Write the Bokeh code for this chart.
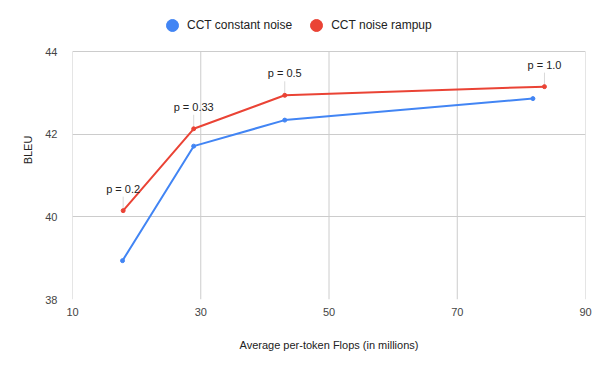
import math
from bokeh.plotting import figure
from bokeh.models import Range1d, FixedTicker, Legend, LegendItem, ColumnDataSource
from bokeh.core.properties import value
from bokeh.embed import file_html
from bokeh.resources import INLINE

# Data
flops_constant = [17.8, 28.9, 43.1, 81.8]
bleu_constant = [38.94, 41.71, 42.34, 42.86]
flops_rampup = [17.9, 28.9, 43.1, 83.6]
bleu_rampup = [40.15, 42.13, 42.94, 43.15]
p_labels = ["p = 0.2", "p = 0.33", "p = 0.5", "p = 1.0"]
x_ticks = [10, 30, 50, 70, 90]
y_ticks = [38, 40, 42, 44]

BLUE = "#4285F4"
RED = "#EA4335"
FONT = "Liberation Sans"

# frame spans the full top so the legend (above the grid) is not clipped
y_top = max(y_ticks) + 51 / (248 / (max(y_ticks) - min(y_ticks)))

p = figure(width=600, height=371, output_backend="svg", toolbar_location=None,
           x_range=Range1d(min(x_ticks), max(x_ticks)), y_range=Range1d(min(y_ticks), y_top),
           min_border_left=72, min_border_right=15, min_border_top=0, min_border_bottom=72)
p.outline_line_color = None
p.background_fill_color = "white"

for ax in (p.xaxis[0], p.yaxis[0]):
    ax.axis_line_color = None
    ax.major_tick_line_color = None
    ax.minor_tick_line_color = None
    ax.major_label_text_font = FONT
    ax.major_label_text_font_size = "11px"
    ax.major_label_text_color = "#444444"
    ax.axis_label_text_font = FONT
    ax.axis_label_text_font_size = "11px"
    ax.axis_label_text_font_style = "normal"
    ax.axis_label_text_color = "#222222"

p.xaxis.ticker = FixedTicker(ticks=x_ticks)
p.yaxis.ticker = FixedTicker(ticks=y_ticks)
p.xaxis.axis_label = "Average per-token Flops (in millions)"
p.yaxis.axis_label = "BLEU"
p.xaxis.major_label_standoff = 2
p.xaxis.axis_label_standoff = 20
p.yaxis.major_label_standoff = 9
p.yaxis.axis_label_standoff = 8

p.xgrid.grid_line_color = None
p.ygrid.grid_line_color = "#cccccc"
p.segment(x0=x_ticks, y0=[min(y_ticks)] * len(x_ticks), x1=x_ticks,
          y1=[max(y_ticks)] * len(x_ticks), line_color="#cccccc", line_width=1)

# leader lines for annotations
p.ray(x=flops_rampup, y=bleu_rampup, length=14, length_units="screen",
      angle=math.pi / 2, line_color="#d9d9d9", line_width=1)

p.line(flops_constant, bleu_constant, line_color=BLUE, line_width=2)
p.scatter(flops_constant, bleu_constant, size=4, color=BLUE)
p.line(flops_rampup, bleu_rampup, line_color=RED, line_width=2)
p.scatter(flops_rampup, bleu_rampup, size=4, color=RED)

src = ColumnDataSource(dict(x=flops_rampup, y=bleu_rampup, t=p_labels))
p.text(x="x", y="y", text="t", source=src, text_align="center", text_baseline="middle",
       y_offset=-22, text_font=value(FONT), text_font_size="11px", text_color="#222222")

# legend (marker-only renderers with a non-drawn point)
nan = float("nan")
lg_blue = p.scatter([nan], [nan], size=12, color=BLUE)
lg_red = p.scatter([nan], [nan], size=12, color=RED)
legend = Legend(items=[LegendItem(label="CCT constant noise", renderers=[lg_blue]),
                       LegendItem(label="CCT noise rampup", renderers=[lg_red])],
                orientation="horizontal", location=(85, 259),
                border_line_color=None, background_fill_alpha=0,
                label_text_font=FONT, label_text_font_size="12px", label_text_color="#222222",
                glyph_width=30, glyph_height=30, label_standoff=0, spacing=9,
                padding=0, margin=0)
p.add_layout(legend, "center")

open("out.html", "w").write(file_html(p, INLINE))
